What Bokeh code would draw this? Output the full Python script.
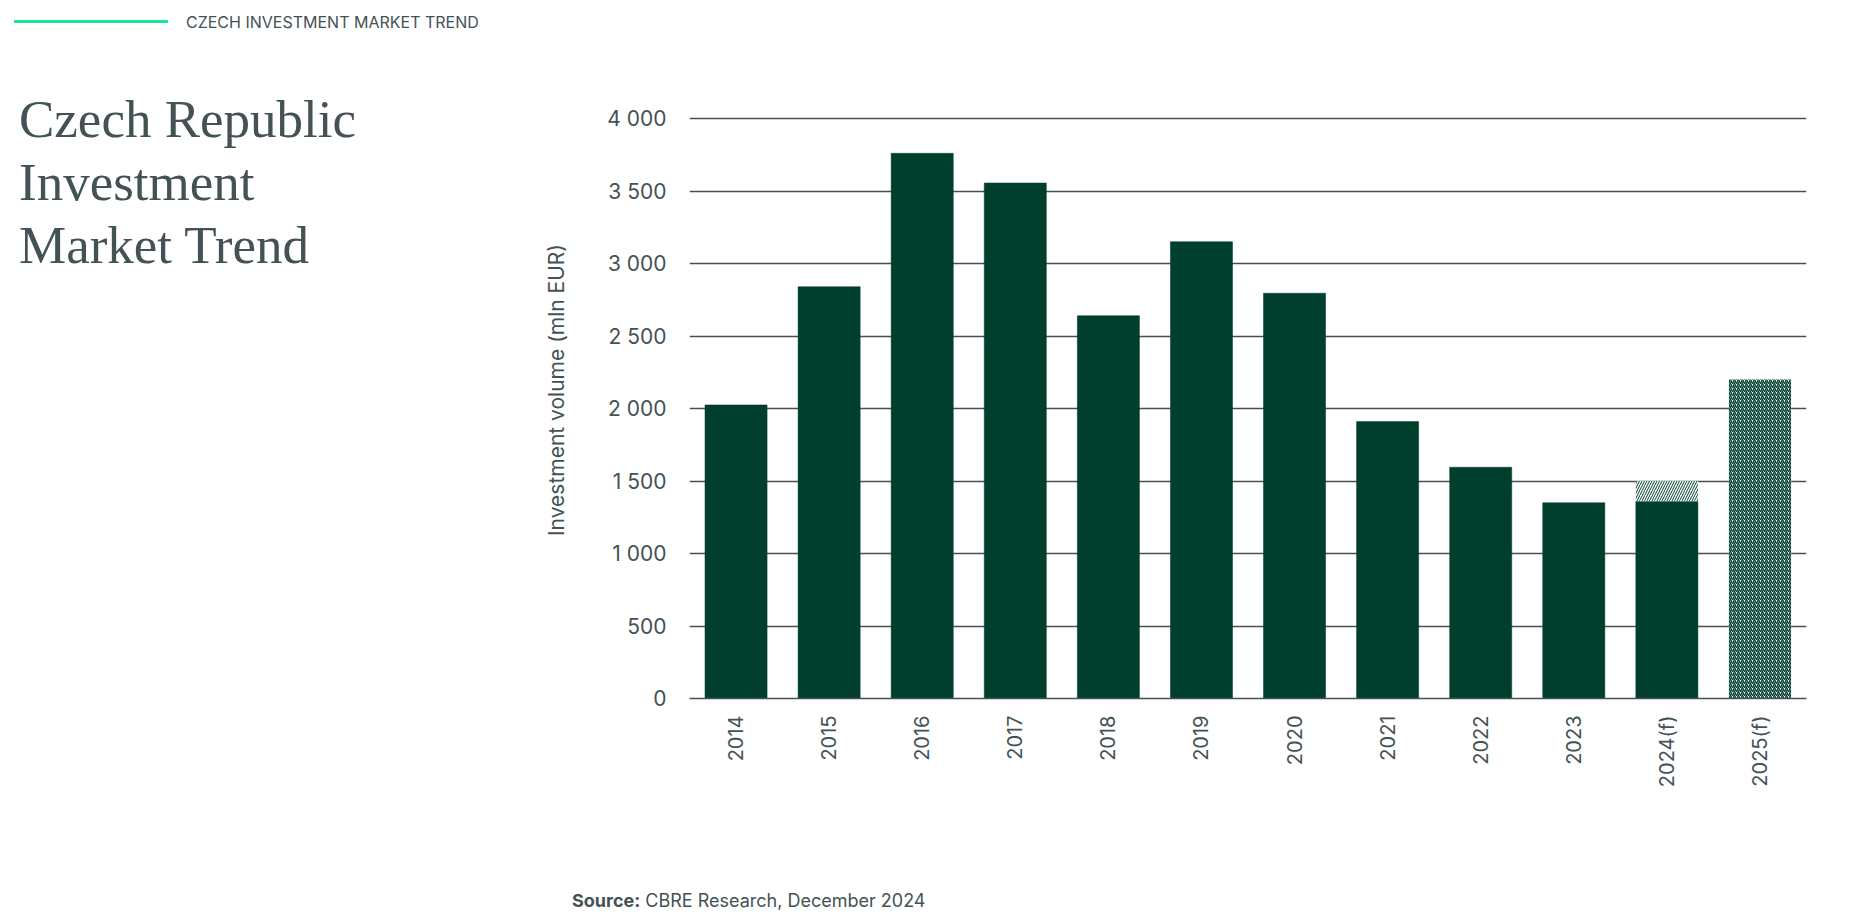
from math import pi
from bokeh.plotting import figure
from bokeh.models import ColumnDataSource, FactorRange, Range1d, FixedTicker, Div
from bokeh.layouts import row, column
from bokeh.embed import file_html
from bokeh.resources import INLINE

# ---- data ----
years = ["2014", "2015", "2016", "2017", "2018", "2019", "2020",
         "2021", "2022", "2023", "2024(f)", "2025(f)"]
actual_volume = [2025, 2840, 3760, 3555, 2640, 3150, 2795, 1910, 1595, 1350, 1360, 0]
forecast_volume = [0, 0, 0, 0, 0, 0, 0, 0, 0, 0, 1500, 2200]
y_ticks = [0, 500, 1000, 1500, 2000, 2500, 3000, 3500, 4000]
y_tick_labels = ["0", "500", "1 000", "1 500", "2 000", "2 500", "3 000", "3 500", "4 000"]
y_axis_title = "Investment volume (mln EUR)"

DARK_GREEN = "#003F2D"
TEXT = "#435254"
ACCENT = "#17E88F"
SANS = "Inter"
SERIF = "Liberation Serif"

W, H = 1874, 920
LEFT_W = 580          # width of the left text column
FIG_H = 870           # height of the chart figure
SRC_H = H - FIG_H     # height of the source line
FL, FR, FT, FB = 689, 1806, 116, 698   # frame position on the page

n = len(years)
solid = ColumnDataSource(dict(x=years, top=actual_volume))
idx_partial = [i for i in range(n) if forecast_volume[i] > 0 and actual_volume[i] > 0]
idx_full = [i for i in range(n) if forecast_volume[i] > 0 and actual_volume[i] == 0]
partial = ColumnDataSource(dict(x=[years[i] for i in idx_partial],
                                bottom=[actual_volume[i] for i in idx_partial],
                                top=[forecast_volume[i] for i in idx_partial]))
full = ColumnDataSource(dict(x=[years[i] for i in idx_full],
                             top=[forecast_volume[i] for i in idx_full]))

p = figure(width=W - LEFT_W, height=FIG_H, x_range=FactorRange(*years, range_padding=0),
           y_range=Range1d(0, 4000 * (FB - FT) / (FB - 118)),
           output_backend="svg", toolbar_location=None,
           min_border_left=FL - LEFT_W, min_border_right=W - FR,
           min_border_top=FT, min_border_bottom=FIG_H - FB)
p.outline_line_color = None
p.background_fill_color = "white"
p.border_fill_color = "white"

p.vbar(x="x", top="top", width=0.667, source=solid,
       fill_color=DARK_GREEN, line_color=DARK_GREEN, line_width=0.5)
p.vbar(x="x", bottom="bottom", top="top", width=0.667, source=partial,
       fill_color="white", line_color=None,
       hatch_pattern="/", hatch_color=DARK_GREEN, hatch_scale=5, hatch_weight=1.0)
p.vbar(x="x", top="top", width=0.667, source=full,
       fill_color="white", line_color=None,
       hatch_pattern="/", hatch_color=DARK_GREEN, hatch_scale=4, hatch_weight=1.5)

# axes
p.xgrid.grid_line_color = None
p.ygrid.grid_line_color = TEXT
p.ygrid.grid_line_width = 1.3
p.ygrid.level = "underlay"

yax = p.yaxis[0]
yax.ticker = FixedTicker(ticks=y_ticks)
yax.major_label_overrides = {t: l for t, l in zip(y_ticks, y_tick_labels)}
yax.axis_line_color = None
yax.major_tick_line_color = None
yax.minor_tick_line_color = None
yax.major_label_standoff = 17
yax.major_label_text_font = SANS
yax.major_label_text_font_size = "21px"
yax.major_label_text_color = TEXT

xax = p.xaxis[0]
xax.axis_line_color = TEXT
xax.axis_line_width = 1.5
xax.major_tick_line_color = None
xax.minor_tick_line_color = None
xax.major_label_orientation = pi / 2
xax.major_label_standoff = 11
xax.major_label_text_font = SANS
xax.major_label_text_font_size = "20px"
xax.major_label_text_color = TEXT

left_html = f"""
<div style="position:relative;width:{LEFT_W}px;height:{FIG_H}px;margin:0;padding:0;">
  <div style="position:absolute;left:14px;top:19.5px;width:154px;height:3px;background:{ACCENT};"></div>
  <div style="position:absolute;left:186px;top:12px;white-space:nowrap;font-family:'{SANS}';
              font-size:16px;line-height:20px;color:{TEXT};">CZECH INVESTMENT MARKET TREND</div>
  <div style="position:absolute;left:19px;top:88px;white-space:nowrap;font-family:'{SERIF}';
              font-size:53px;line-height:63px;color:{TEXT};">Czech Republic<br>Investment<br>Market Trend</div>
  <div style="position:absolute;left:557px;top:390px;white-space:nowrap;font-family:'{SANS}';
              font-size:21px;line-height:24px;color:{TEXT};
              transform:translate(-50%,-50%) rotate(-90deg);">{y_axis_title}</div>
</div>
"""
left_div = Div(text=left_html, width=LEFT_W, height=FIG_H,
               styles={"margin": "0", "padding": "0"})

src_html = f"""
<div style="position:relative;width:{W}px;height:{SRC_H}px;margin:0;padding:0;">
  <div style="position:absolute;left:572px;top:21px;white-space:nowrap;font-family:'{SANS}';
              font-size:18px;line-height:20px;color:{TEXT};"><b>Source:</b> CBRE Research, December 2024</div>
</div>
"""
src_div = Div(text=src_html, width=W, height=SRC_H, styles={"margin": "0", "padding": "0"})

layout = column(row(left_div, p, spacing=0), src_div, spacing=0)
open("out.html", "w").write(file_html(layout, INLINE))
